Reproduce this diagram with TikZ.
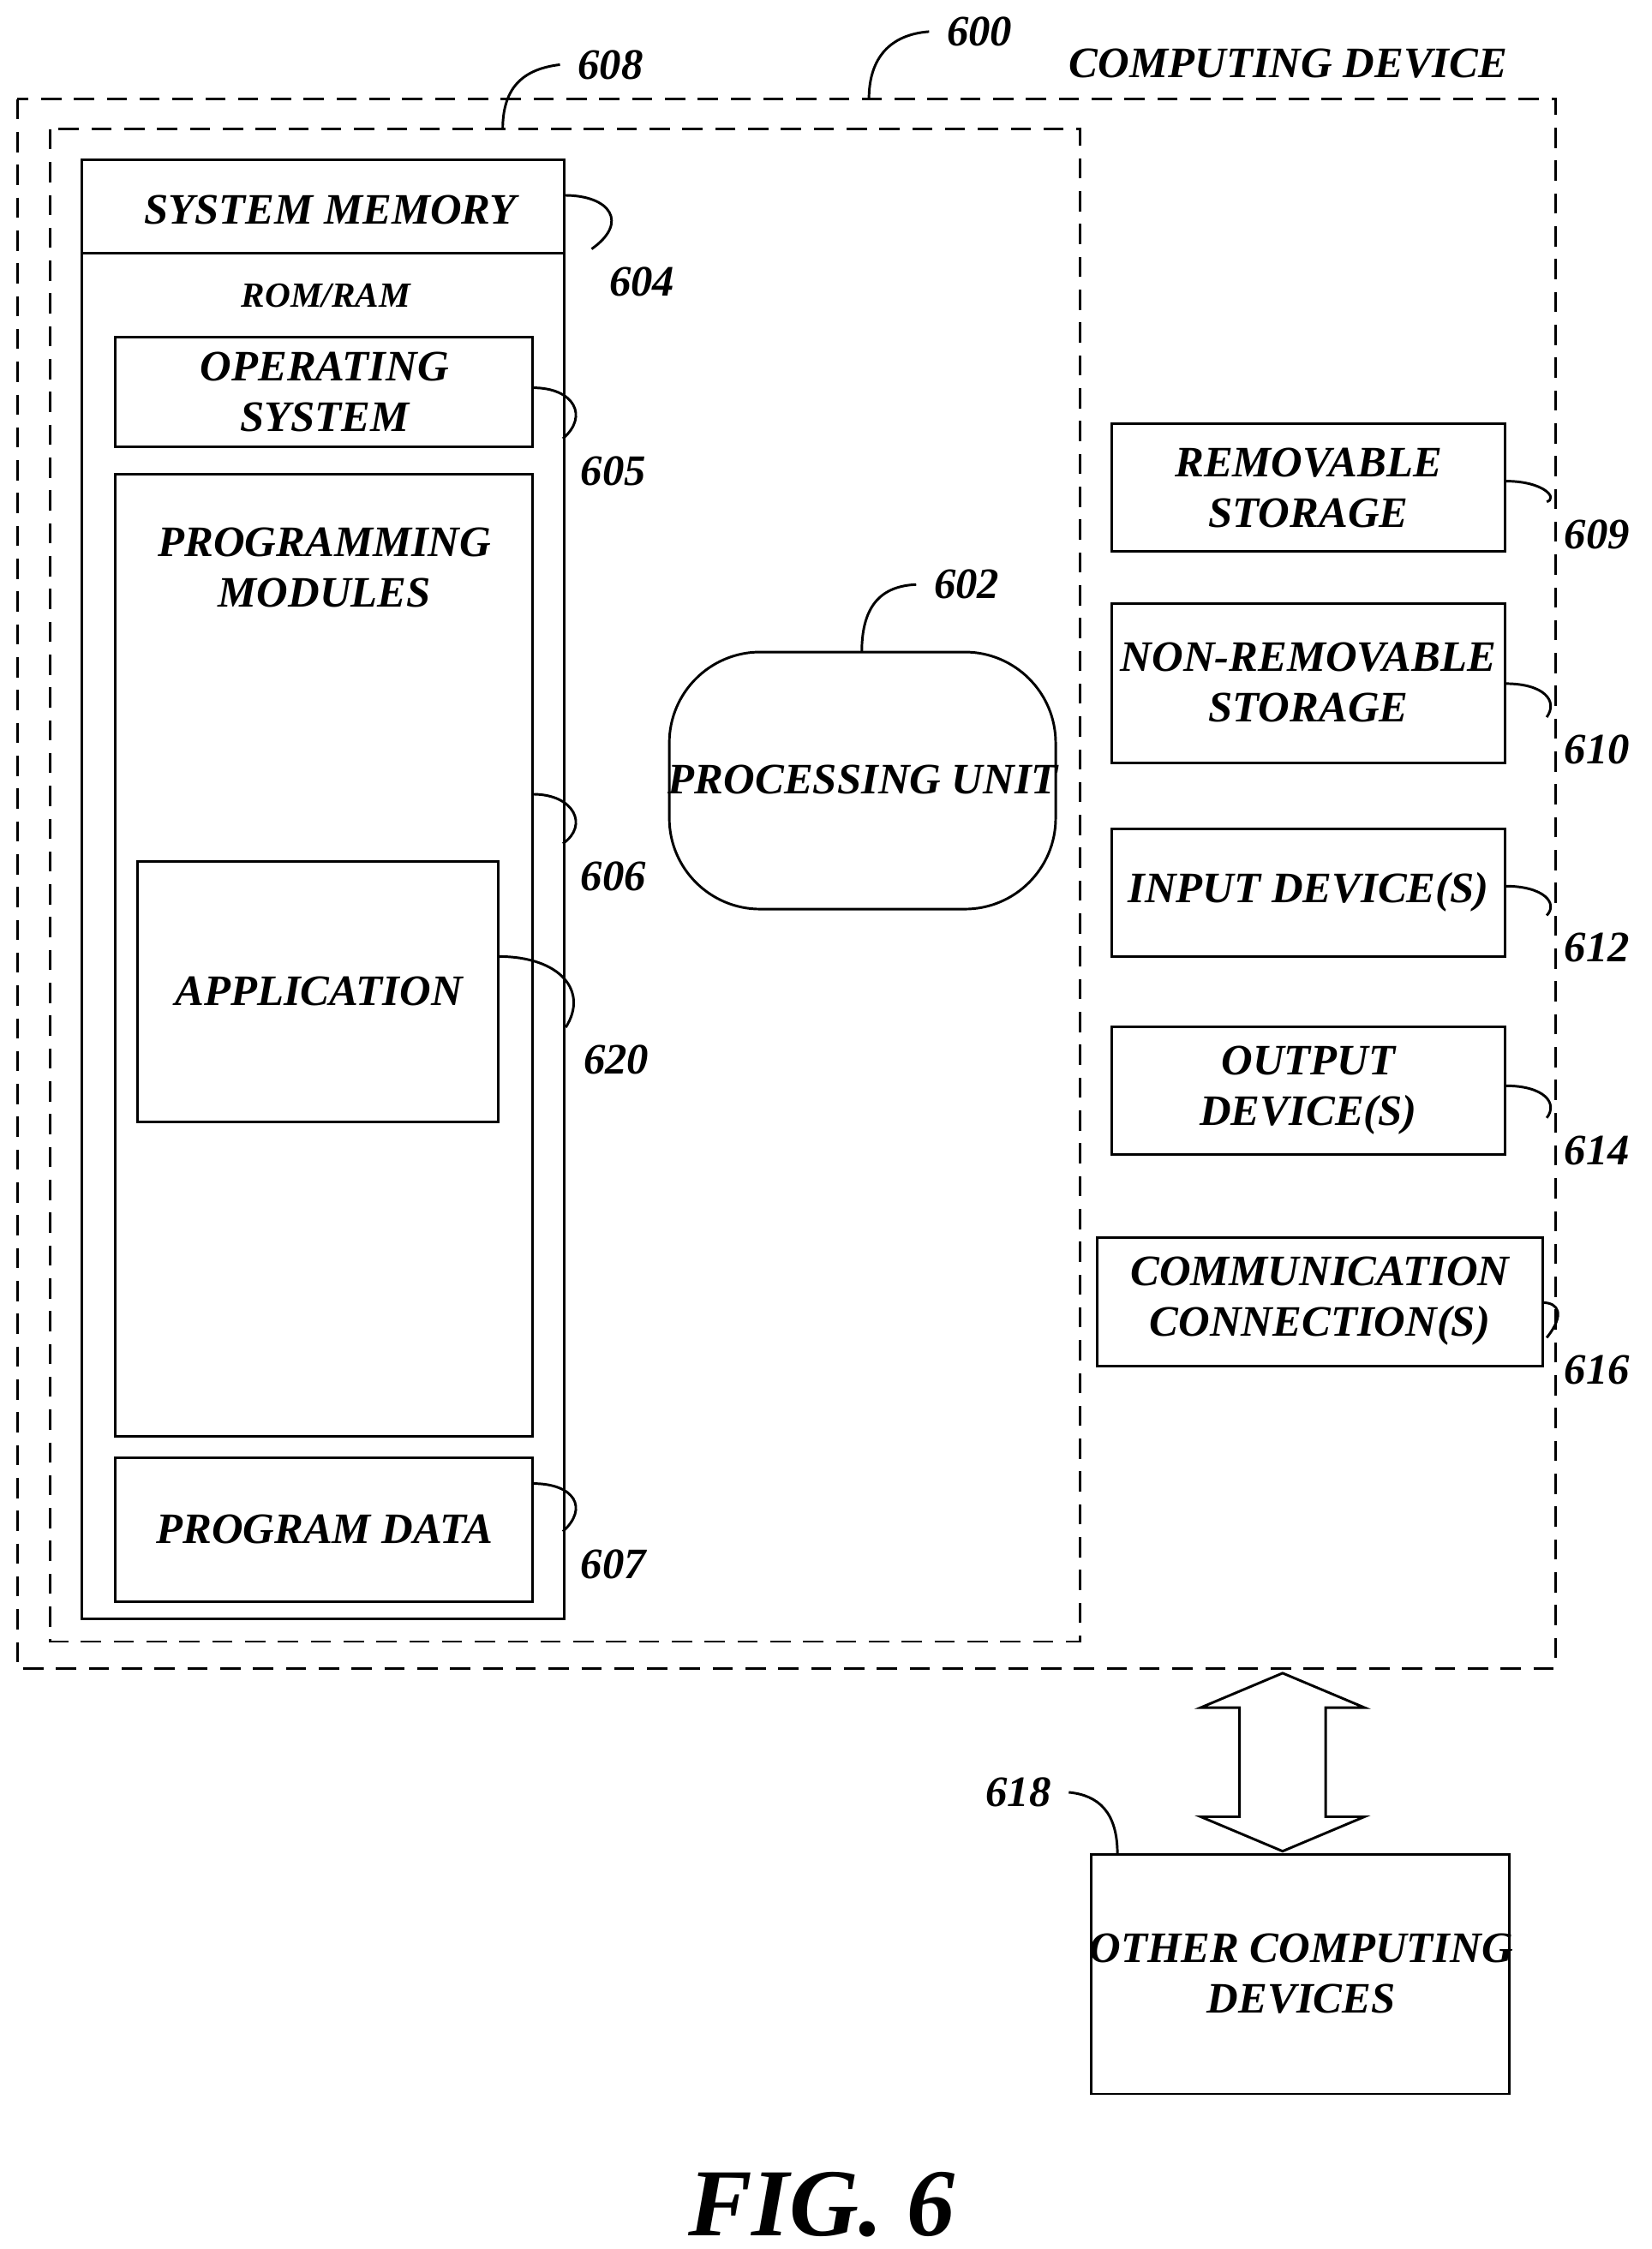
\documentclass[tikz,border=0pt]{standalone}
\usepackage{fontspec}
\setmainfont{Liberation Serif}
\begin{document}
\begin{tikzpicture}[x=0.01cm,y=-0.01cm,
  txt/.style={font=\fontsize{8.6}{10}\selectfont\bfseries\itshape,align=center},
  box/.style={draw,line width=0.5pt},
  dashbox/.style={draw,line width=0.5pt,dash pattern=on 4pt off 2.5pt},
  lead/.style={line width=0.5pt},
  num/.style={font=\fontsize{8.6}{10}\selectfont\bfseries\itshape}]
\useasboundingbox (0,0) rectangle (1150,1566);
\fill[white] (0,0) rectangle (1150,1566);
\draw[dashbox] (12,69) rectangle (1083,1162);
\draw[dashbox] (35,90) rectangle (752,1143);
\draw[box] (57,111) rectangle (393,1127);
\draw[box] (57,176) -- (393,176);
\node[txt] (sm) at (230,146) {SYSTEM MEMORY};
\node[txt,font=\fontsize{7}{8}\selectfont\bfseries\itshape] (rr) at (227,206) {ROM/RAM};
\draw[box] (80,235) rectangle (371,311);
\node[txt] (os) at (226,273) {OPERATING\\SYSTEM};
\draw[box] (80,330) rectangle (371,1000);
\node[txt] (pm) at (226,395) {PROGRAMMING\\MODULES};
\draw[box] (96,600) rectangle (347,781);
\node[txt] (app) at (222,690) {APPLICATION};
\draw[box] (80,1015) rectangle (371,1115);
\node[txt] (pd) at (226,1065) {PROGRAM DATA};
\draw[box,rounded corners=18] (466,454) rectangle (735,633);
\node[txt] (pu) at (601,543) {PROCESSING UNIT};
\draw[box] (774,295) rectangle (1048,384);
\node[txt] (rs) at (911,340) {REMOVABLE\\STORAGE};
\draw[box] (774,420) rectangle (1048,531);
\node[txt] (nrs) at (911,475) {NON-REMOVABLE\\STORAGE};
\draw[box] (774,577) rectangle (1048,666);
\node[txt] (in) at (911,621) {INPUT DEVICE(S)};
\draw[box] (774,715) rectangle (1048,804);
\node[txt] (out) at (911,759) {OUTPUT\\DEVICE(S)};
\draw[box] (764,862) rectangle (1074,951);
\node[txt] (cc) at (919,906) {COMMUNICATION\\CONNECTION(S)};
\draw[box] (760,1291) rectangle (1051,1458);
\node[txt] (ocd) at (906,1374) {OTHER COMPUTING\\DEVICES};
\node[txt] (cd) at (897,44) {COMPUTING DEVICE};
\node[font=\fontsize{19}{22}\selectfont\bfseries\itshape] (fig) at (572,1535) {FIG. 6};
% double arrow
\draw[line width=0.5pt,fill=white] (893,1165) -- (950,1189) -- (923,1189) -- (923,1265) -- (950,1265) -- (893,1289) -- (836,1265) -- (863,1265) -- (863,1189) -- (836,1189) -- cycle;
% labels
\node[num] (n604) at (447,196) {604};
\node[num] (n605) at (427,328) {605};
\node[num] (n606) at (427,610) {606};
\node[num] (n620) at (429,738) {620};
\node[num] (n607) at (427,1089) {607};
\node[num] (n609) at (1112,372) {609};
\node[num] (n610) at (1112,522) {610};
\node[num] (n612) at (1112,660) {612};
\node[num] (n614) at (1112,801) {614};
\node[num] (n616) at (1112,954) {616};
\node[num] (n602) at (673,407) {602};
\node[num] (n608) at (425,45) {608};
\node[num] (n600) at (682,22) {600};
\node[num] (n618) at (709,1248) {618};
\draw[lead] (393,136) .. controls (425,136) and (438,155) .. (n604.north west);
\draw[lead] (371,270) .. controls (400,270) and (410,290) .. (n605.north west);
\draw[lead] (371,553) .. controls (400,553) and (410,575) .. (n606.north west);
\draw[lead] (347,666) .. controls (390,666) and (410,690) .. (n620.north west);
\draw[lead] (371,1033) .. controls (400,1033) and (410,1050) .. (n607.north west);
\foreach \y/\n in {335/n609,476/n610,617/n612,756/n614} \draw[lead] (1048,\y) .. controls (1075,\y) and (1085,\y+12) .. (\n.north west);
\draw[lead] (1074,907) .. controls (1085,907) and (1090,915) .. (n616.north west);
\draw[lead] (600,454) .. controls (600,420) and (615,408) .. (n602.west);
\draw[lead] (350,90) .. controls (350,60) and (365,48) .. (n608.west);
\draw[lead] (605,69) .. controls (605,40) and (620,24) .. (n600.west);
\draw[lead] (778,1291) .. controls (778,1262) and (765,1250) .. (n618.east);
\end{tikzpicture}
\end{document}
